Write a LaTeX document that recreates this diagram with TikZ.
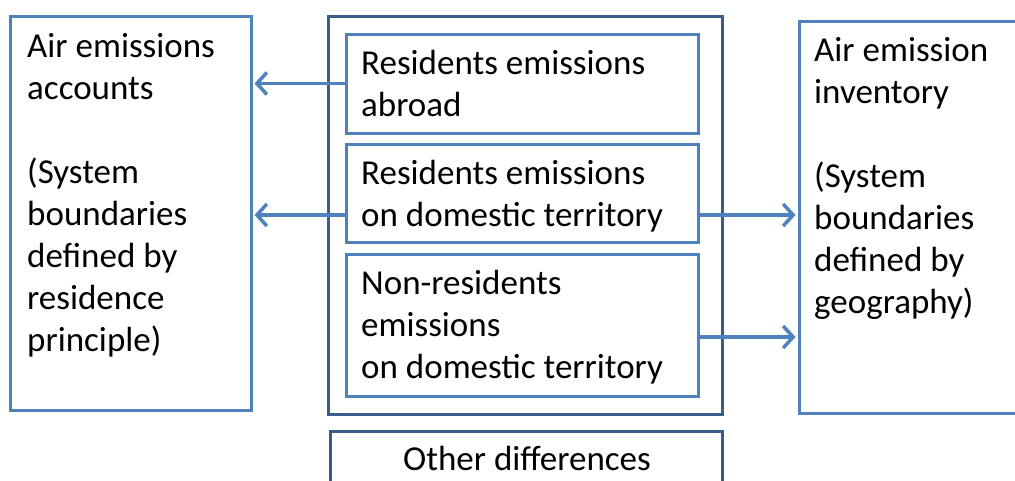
\documentclass[tikz,border=0pt]{standalone}
\usepackage{fontspec}
\setmainfont{Carlito}
\usetikzlibrary{arrows.meta}
\definecolor{lightblue}{HTML}{4F81BD}
\definecolor{darkblue}{HTML}{385D8A}
\begin{document}
\begin{tikzpicture}
        [x=1pt, y=-1pt,
        box/.style={draw=lightblue, line width=3pt, fill=white, inner sep=0pt},
        outer/.style={draw=darkblue, line width=3pt, fill=white, inner sep=0pt},
        txt/.style={font=\fontsize{35}{42}\selectfont, align=left, inner sep=0pt, anchor=base west},
        link/.style={lightblue, line width=3.5pt, -{Straight Barb[length=10pt, width=22pt]}}]

        \useasboundingbox (0,0) rectangle (1015,480);
        \clip (0,0) rectangle (1015,480);

        % outer boxes
        \node[box, minimum width=241pt, minimum height=394pt] (acc) at (130.5,213) {};
        \node[box, minimum width=262pt, minimum height=392pt] (inv) at (930,217) {};
        \node[outer, minimum width=394pt, minimum height=398pt] (mid) at (525,215) {};
        \node[outer, minimum width=392pt, minimum height=80pt] (other) at (526,471) {};

        % inner boxes
        \node[box, minimum width=352pt, minimum height=99pt] (abroad) at (522,83.5) {};
        \node[box, minimum width=352pt, minimum height=98pt] (resdom) at (522,193) {};
        \node[box, minimum width=352pt, minimum height=142pt] (nonres) at (522,325) {};

        % texts (placed at the baseline of their last line)
        \node[txt] (acctxt) at (27,351) {Air emissions\\accounts\\[42pt](System\\boundaries\\defined by\\residence\\principle)};
        \node[txt] (invtxt) at (814,313) {Air emission\\inventory\\[42pt](System\\boundaries\\defined by\\geography)};
        \node[txt] (abroadtxt) at (361,116) {Residents emissions\\abroad};
        \node[txt] (resdomtxt) at (361,226) {Residents emissions\\on domestic territory};
        \node[txt] (nonrestxt) at (361,378) {Non-residents\\emissions\\on domestic territory};
        \node[txt, anchor=base] (othertxt) at (527,470) {Other differences};

        % arrows
        \draw[link] (abroad.west) -- ([xshift=2pt]acc.east |- abroad.west);
        \draw[link] ([yshift=-22pt]resdom.west) -- ([xshift=2pt,yshift=-22pt]acc.east |- resdom.west);
        \draw[link] ([yshift=-22pt]resdom.east) -- ([xshift=-2pt,yshift=-22pt]inv.west |- resdom.east);
        \draw[link] ([yshift=-12pt]nonres.east) -- ([xshift=-2pt,yshift=-12pt]inv.west |- nonres.east);

\end{tikzpicture}
\end{document}
